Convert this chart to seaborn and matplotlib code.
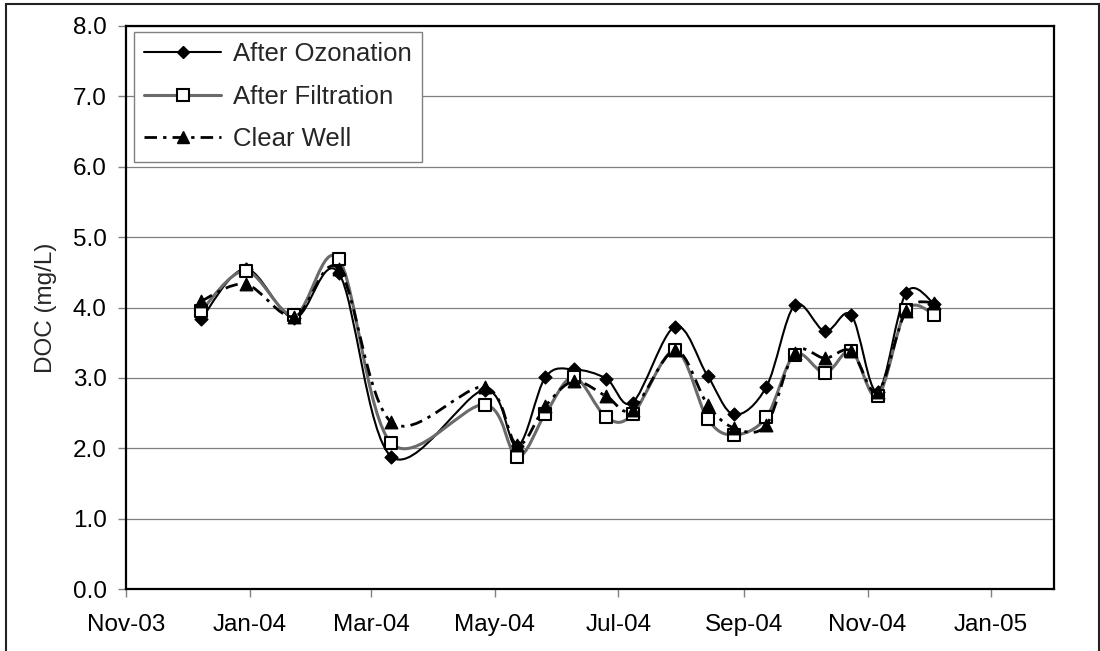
import numpy as np
import pandas as pd
import seaborn as sns
import matplotlib
matplotlib.use('agg')
import matplotlib.pyplot as plt
import matplotlib.dates as mdates
from matplotlib.path import Path
from matplotlib.patches import PathPatch, Rectangle
from matplotlib.lines import Line2D
from matplotlib.ticker import FormatStrFormatter, MultipleLocator

# sampling dates and DOC values (mg/L)
sample_dates = ['2003-12-08', '2003-12-30', '2004-01-23', '2004-02-14', '2004-03-11',
                '2004-04-26', '2004-05-12', '2004-05-26', '2004-06-09', '2004-06-25',
                '2004-07-08', '2004-07-29', '2004-08-14', '2004-08-27', '2004-09-12',
                '2004-09-26', '2004-10-11', '2004-10-24', '2004-11-06', '2004-11-20',
                '2004-12-04']
after_ozonation = [3.83, 4.55, 3.85, 4.49, 1.88, 2.83, 2.03, 3.01, 3.12, 2.99, 2.65,
                   3.73, 3.03, 2.48, 2.87, 4.03, 3.66, 3.89, 2.80, 4.21, 4.05]
after_filtration = [3.95, 4.52, 3.89, 4.69, 2.07, 2.62, 1.88, 2.49, 3.01, 2.44, 2.48,
                    3.39, 2.42, 2.19, 2.44, 3.33, 3.07, 3.38, 2.74, 3.96, 3.90]
clear_well = [4.09, 4.33, 3.87, 4.55, 2.37, 2.87, 2.05, 2.60, 2.95, 2.74, 2.55,
              3.39, 2.62, 2.29, 2.33, 3.36, 3.28, 3.38, 2.80, 3.95, 4.07]
series_names = ['After Ozonation', 'After Filtration', 'Clear Well']

df = pd.DataFrame({'date': pd.to_datetime(sample_dates),
                   'After Ozonation': after_ozonation,
                   'After Filtration': after_filtration,
                   'Clear Well': clear_well})
long_df = df.melt(id_vars='date', var_name='stage', value_name='doc')

styles = {
    'After Ozonation': dict(color='black', lw=1.5, ls='-', marker='D', ms=6.5,
                            mfc='black', mec='black', mew=1.0),
    'After Filtration': dict(color='#6a6a6a', lw=2.2, ls='-', marker='s', ms=8.5,
                             mfc='white', mec='black', mew=1.5),
    'Clear Well': dict(color='black', lw=2.0, ls=(0, (4.5, 2.2, 1.2, 2.2)), marker='^',
                       ms=9, mfc='black', mec='black', mew=1.0),
}


def smooth_path(x, y):
    # excel style smoothed line: bezier segments through the points
    pts = np.column_stack([x, y])
    padded = np.vstack([pts[0], pts, pts[-1]])
    verts = [pts[0]]
    codes = [Path.MOVETO]
    for i in range(len(pts) - 1):
        p0, p1, p2, p3 = padded[i], padded[i + 1], padded[i + 2], padded[i + 3]
        verts += [p1 + (p2 - p0) / 6, p2 - (p3 - p1) / 6, p2]
        codes += [Path.CURVE4] * 3
    return Path(verts, codes)


sns.set_style('white')
plt.rcParams['font.family'] = ['Liberation Sans', 'DejaVu Sans']

fig = plt.figure(figsize=(11, 6.51), dpi=100)
ax = fig.add_axes([126 / 1100, 1 - 589 / 651, 928 / 1100, 563 / 651])

for i, name in enumerate(series_names):
    st = styles[name]
    sub = long_df[long_df['stage'] == name]
    xnum = mdates.date2num(sub['date'])
    ax.add_patch(PathPatch(smooth_path(xnum, sub['doc'].values), fill=False,
                           edgecolor=st['color'], lw=st['lw'], linestyle=st['ls'],
                           zorder=3 + 2 * i, capstyle='butt'))
    sns.scatterplot(data=sub, x='date', y='doc', ax=ax, marker=st['marker'],
                    s=st['ms'] ** 2, color=st['mfc'], edgecolor=st['mec'],
                    linewidth=st['mew'], zorder=4 + 2 * i, legend=False)

ax.set_xlim(pd.Timestamp('2003-11-01'), pd.Timestamp('2005-02-01'))
ax.set_ylim(0, 8)
ax.xaxis.set_major_locator(mdates.MonthLocator(bymonth=[1, 3, 5, 7, 9, 11]))
ax.xaxis.set_major_formatter(mdates.DateFormatter('%b-%y'))
ax.yaxis.set_major_locator(MultipleLocator(1))
ax.yaxis.set_major_formatter(FormatStrFormatter('%.1f'))

ax.yaxis.grid(True, color='#808080', lw=0.9)
ax.xaxis.grid(False)
ax.set_axisbelow(True)
for sp in ax.spines.values():
    sp.set_color('black')
    sp.set_linewidth(1.6)

ax.tick_params(axis='both', direction='out', length=6, width=1.0, color='#808080',
               labelcolor='black', labelsize=17.5, bottom=True, left=True)
ax.tick_params(axis='x', pad=12)
ax.tick_params(axis='y', pad=8)
ax.set_xlabel('')
ax.set_ylabel('DOC (mg/L)', fontsize=17.5, labelpad=11)

handles = [Line2D([], [], color=styles[n]['color'], lw=styles[n]['lw'], ls=styles[n]['ls'],
                  marker=styles[n]['marker'], ms=styles[n]['ms'], mfc=styles[n]['mfc'],
                  mec=styles[n]['mec'], mew=styles[n]['mew']) for n in series_names]
leg = ax.legend(handles, series_names, loc='upper left', bbox_to_anchor=(0.0086, 0.989),
                borderaxespad=0, fontsize=18.5, frameon=True, fancybox=False,
                framealpha=1, edgecolor='#808080', handlelength=3.0, handletextpad=0.45,
                labelspacing=0.72, borderpad=0.4)
leg.get_frame().set_linewidth(1.0)

# chart area border
fig.patches.append(Rectangle((5.5 / 1100, -0.02), 1093 / 1100, 1 - 3.5 / 651 + 0.02,
                             transform=fig.transFigure, fill=False, edgecolor='#222222',
                             lw=1.5))

fig.savefig('out.png', dpi=100)
